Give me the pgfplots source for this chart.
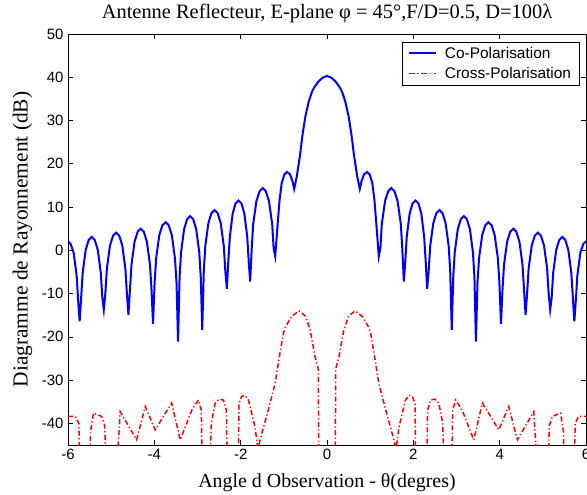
\documentclass[border=0pt]{standalone}
\usepackage{pgfplots}
\pgfplotsset{compat=1.18}
\usepackage{fontspec}
\setmainfont{Liberation Serif}
\newfontfamily\sans{Liberation Sans}
\definecolor{mblue}{RGB}{0,0,255}
\definecolor{mred}{RGB}{255,0,0}
\begin{document}
\begin{tikzpicture}
\begin{axis}[
  name=ax,
  scale only axis, width=518bp, height=411bp,
  xmin=-6, xmax=6, ymin=-45, ymax=50,
  xtick={-6,-4,-2,0,2,4,6}, xticklabels={-6,-4,-2,0,2,4,6},
  ytick={-40,-30,-20,-10,0,10,20,30,40,50},
  yticklabels={-40,-30,-20,-10,0,10,20,30,40,50},
  tick align=inside, major tick length=5bp,
  tick style={black, line width=0.6bp},
  axis line style={black, line width=0.6bp},
  ticklabel style={font=\sans\fontsize{15}{15}\selectfont},
  xticklabel style={yshift=-1bp},
  yticklabel style={xshift=-1bp},
  xlabel={Angle d Observation - θ(degres)},
  ylabel={Diagramme de Rayonnement (dB)},
  title={Antenne Reflecteur, E-plane φ = 45°,F/D=0.5, D=100λ},
  xlabel style={font=\fontsize{20}{20}\selectfont, at={(axis description cs:0.5,-0.0917)}, anchor=center},
  ylabel style={font=\fontsize{21.5}{21.5}\selectfont, at={(axis description cs:-0.088,0.5)}, anchor=center},
  title style={font=\fontsize{20.5}{20.5}\selectfont, at={(axis description cs:0.5,1.036)}, anchor=center, yshift=0pt},
  legend style={at={(axis description cs:0.987,0.981)}, anchor=north east,
    font=\sans\fontsize{15.5}{15.5}\selectfont,
    inner xsep=6bp, inner ysep=3bp, row sep=3.5bp,
    /tikz/every odd column/.style={column sep=6bp}},
  legend cell align=left,
]
\addplot[color=mblue, line width=2bp,
  legend image code/.code={\draw[mblue, line width=2bp] (0bp,0bp) -- (27bp,0bp);}] coordinates {
(-6.00,2.1) (-5.94,1.5) (-5.87,-0.5) (-5.80,-5.8) (-5.765,-11.5) (-5.73,-16.4)
(-5.695,-10.9) (-5.66,-5.2) (-5.59,0.1) (-5.52,2.4) (-5.45,3.1) (-5.38,2.4) (-5.31,0.1) (-5.24,-5.2) (-5.205,-10.9) (-5.17,-13.7)
(-5.134,-9.9) (-5.099,-4.2) (-5.0275,1.1) (-4.956,3.4) (-4.885,4.1) (-4.814,3.4) (-4.7425,1.1) (-4.671,-4.2) (-4.636,-9.9) (-4.60,-14.9)
(-4.564,-9.0) (-4.529,-3.3) (-4.4575,2.0) (-4.386,4.3) (-4.315,5.0) (-4.244,4.3) (-4.1725,2.0) (-4.101,-3.3) (-4.066,-9.0) (-4.03,-17.0)
(-3.994,-7.5) (-3.9575,-1.8) (-3.885,3.5) (-3.8125,5.8) (-3.74,6.5) (-3.6675,5.8) (-3.595,3.5) (-3.5225,-1.8) (-3.486,-7.5) (-3.45,-21.1)
(-3.415,-6.1) (-3.38,-0.4) (-3.31,4.9) (-3.24,7.2) (-3.17,7.9) (-3.10,7.2) (-3.03,4.9) (-2.96,-0.4) (-2.925,-6.1) (-2.89,-18.4)
(-2.854,-4.7) (-2.819,1.0) (-2.7475,6.3) (-2.676,8.6) (-2.605,9.3) (-2.534,8.6) (-2.4625,6.3) (-2.391,1.0) (-2.356,-4.7) (-2.32,-8.9)
(-2.286,-2.5) (-2.25,3.2) (-2.185,8.5) (-2.12,10.8) (-2.05,11.5) (-1.98,10.8) (-1.915,8.5) (-1.848,3.2) (-1.814,-2.5) (-1.78,-7.2)
(-1.744,0.4) (-1.71,6.1) (-1.635,11.4) (-1.56,13.7) (-1.49,14.4) (-1.42,13.7) (-1.345,11.4) (-1.27,6.1) (-1.236,0.4) (-1.20,-1.4)
(-1.17,2.5) (-1.14,6.5) (-1.10,11.5) (-1.05,15.5) (-0.99,17.5) (-0.93,18.1) (-0.86,17.6) (-0.80,16.0) (-0.76,14.2)
(-0.70,17.1) (-0.625,22.0) (-0.57,26.5) (-0.50,31.0) (-0.42,34.5) (-0.35,36.6) (-0.30,37.6) (-0.20,39.0) (-0.10,39.9)
(0,40.3)
(0.10,39.9) (0.20,39.0) (0.30,37.6) (0.35,36.6) (0.42,34.5) (0.50,31.0) (0.57,26.5) (0.625,22.0) (0.70,17.1)
(0.76,14.2) (0.80,16.0) (0.86,17.6) (0.93,18.1) (0.99,17.5) (1.05,15.5) (1.10,11.5) (1.14,6.5) (1.17,2.5)
(1.20,-1.4) (1.236,0.4) (1.27,6.1) (1.345,11.4) (1.42,13.7) (1.49,14.4) (1.56,13.7) (1.635,11.4) (1.71,6.1) (1.744,0.4)
(1.78,-7.2) (1.814,-2.5) (1.848,3.2) (1.915,8.5) (1.98,10.8) (2.05,11.5) (2.12,10.8) (2.185,8.5) (2.25,3.2) (2.286,-2.5)
(2.32,-8.9) (2.356,-4.7) (2.391,1.0) (2.4625,6.3) (2.534,8.6) (2.605,9.3) (2.676,8.6) (2.7475,6.3) (2.819,1.0) (2.854,-4.7)
(2.89,-18.4) (2.925,-6.1) (2.96,-0.4) (3.03,4.9) (3.10,7.2) (3.17,7.9) (3.24,7.2) (3.31,4.9) (3.38,-0.4) (3.415,-6.1)
(3.45,-21.1) (3.486,-7.5) (3.5225,-1.8) (3.595,3.5) (3.6675,5.8) (3.74,6.5) (3.8125,5.8) (3.885,3.5) (3.9575,-1.8) (3.994,-7.5)
(4.03,-17.0) (4.066,-9.0) (4.101,-3.3) (4.1725,2.0) (4.244,4.3) (4.315,5.0) (4.386,4.3) (4.4575,2.0) (4.529,-3.3) (4.564,-9.0)
(4.60,-14.9) (4.636,-9.9) (4.671,-4.2) (4.7425,1.1) (4.814,3.4) (4.885,4.1) (4.956,3.4) (5.0275,1.1) (5.099,-4.2) (5.134,-9.9)
(5.17,-13.7) (5.205,-10.9) (5.24,-5.2) (5.31,0.1) (5.38,2.4) (5.45,3.1) (5.52,2.4) (5.59,0.1) (5.66,-5.2) (5.695,-10.9)
(5.73,-16.4) (5.765,-11.5) (5.80,-5.8) (5.87,-0.5) (5.94,1.5) (6.00,2.1)
};
\addlegendentry{Co-Polarisation}
\addplot[color=mred, line width=1.5bp, dash pattern=on 5bp off 2.5bp on 1.2bp off 2.5bp,
  legend image code/.code={\draw[mred, line width=1.6bp, dash pattern=on 6bp off 2.5bp on 1.5bp off 2.5bp] (0bp,0bp) -- (27bp,0bp);}] coordinates {
(-6.0,-38.4) (-5.83,-38.4) (-5.75,-40) (-5.70,-60) (-5.50,-60) (-5.48,-42) (-5.41,-37.6) (-5.22,-38.4) (-5.15,-40.5) (-5.09,-60)
(-4.93,-60) (-4.79,-37.3) (-4.41,-43.8) (-4.21,-36.1) (-3.98,-41.5) (-3.60,-35.3) (-3.40,-43.8) (-3.13,-36.9) (-2.98,-34.6) (-2.91,-37) (-2.88,-60)
(-2.75,-60) (-2.68,-40) (-2.59,-35.3) (-2.50,-34.4) (-2.40,-34.6) (-2.33,-37) (-2.30,-60)
(-2.06,-60) (-2.04,-35.5) (-1.98,-33.8) (-1.90,-33.5) (-1.82,-34.6) (-1.67,-40.7) (-1.60,-46) (-1.55,-43.8) (-1.36,-36.9) (-1.20,-30.7)
(-1.09,-23.8) (-1.01,-19.1) (-0.95,-17.5) (-0.82,-15.3) (-0.65,-14.0) (-0.50,-15.2) (-0.39,-18.4) (-0.28,-24.5) (-0.20,-27.5) (-0.19,-60)
(0.00,-60)
(0.19,-60) (0.20,-27.5) (0.28,-24.5) (0.39,-18.4) (0.50,-15.2) (0.65,-14.0) (0.82,-15.3) (0.95,-17.5) (1.01,-19.1) (1.09,-23.8)
(1.20,-30.7) (1.36,-36.9) (1.55,-43.8) (1.60,-46) (1.67,-40.7) (1.82,-34.6) (1.90,-33.5) (1.98,-33.8) (2.04,-35.5) (2.06,-60)
(2.30,-60) (2.33,-37) (2.40,-34.6) (2.50,-34.4) (2.59,-35.3) (2.68,-40) (2.75,-60)
(2.88,-60) (2.91,-37) (2.98,-34.6) (3.13,-36.9) (3.40,-43.8) (3.60,-35.3) (3.98,-41.5) (4.21,-36.1) (4.41,-43.8) (4.79,-37.3) (4.93,-60)
(5.09,-60) (5.15,-40.5) (5.22,-38.4) (5.41,-37.6) (5.48,-42) (5.50,-60) (5.70,-60) (5.75,-40) (5.83,-38.4) (6.0,-38.4)
};
\addlegendentry{Cross-Polarisation}
\end{axis}
\pgfresetboundingbox
\useasboundingbox ([xshift=-68bp,yshift=-50bp]ax.south west) rectangle ([xshift=1bp,yshift=34bp]ax.north east);
\end{tikzpicture}
\end{document}
